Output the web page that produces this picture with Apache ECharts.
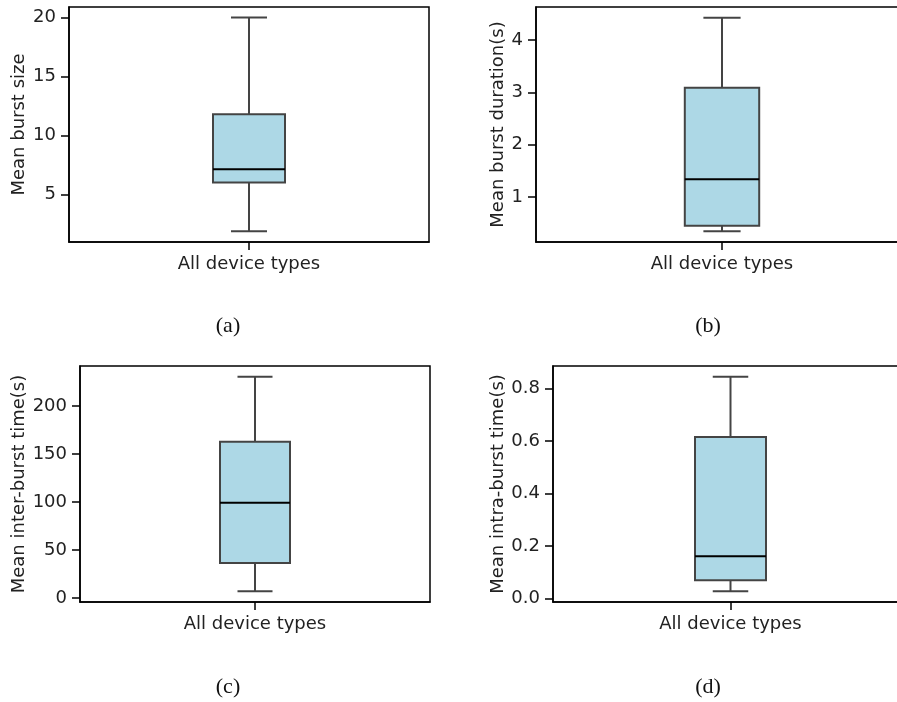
<!DOCTYPE html>
<html>
<head>
<meta charset="utf-8">
<script src="https://cdn.jsdelivr.net/npm/echarts@6/dist/echarts.min.js"></script>
<style>
html,body{margin:0;padding:0;background:#fff;}
#main{width:897px;height:702px;}
</style>
</head>
<body>
<div id="main"></div>
<script>
// ---- data ----
var categories = ['All device types'];
// [lower whisker, Q1, median, Q3, upper whisker]
var burstSize      = [1.86, 6.0, 7.12, 11.8, 20.0];
var burstDuration  = [0.348, 0.455, 1.342, 3.087, 4.424];
var interBurstTime = [6.9, 36.4, 99.0, 162.5, 230.3];
var intraBurstTime = [0.028, 0.07, 0.161, 0.615, 0.844];

var yNames = ['Mean burst size', 'Mean burst duration(s)', 'Mean inter-burst time(s)', 'Mean intra-burst time(s)'];
var captions = ['(a)', '(b)', '(c)', '(d)'];

var ticksA = [5, 10, 15, 20];
var ticksB = [1, 2, 3, 4];
var ticksC = [0, 50, 100, 150, 200];
var ticksD = [0.0, 0.2, 0.4, 0.6, 0.8];

var limitsA = [0.95, 20.9];
var limitsB = [0.144, 4.628];
var limitsC = [-4.3, 241.5];
var limitsD = [-0.013, 0.885];

// ---- layout ----
var panels = [
  {stats: burstSize, ticks: ticksA, lim: limitsA, fmt: function(v){return String(v);}, grid:{left:69, top:7, width:360, height:235}, gap:41},
  {stats: burstDuration, ticks: ticksB, lim: limitsB, fmt: function(v){return String(v);}, grid:{left:536, top:7, width:372, height:235}, gap:28},
  {stats: interBurstTime, ticks: ticksC, lim: limitsC, fmt: function(v){return String(v);}, grid:{left:80, top:366, width:350, height:236}, gap:51},
  {stats: intraBurstTime, ticks: ticksD, lim: limitsD, fmt: function(v){return v.toFixed(1);}, grid:{left:553, top:366, width:355, height:236}, gap:46}
];
var captionPos = [[228, 326], [708, 326], [228, 687], [708, 687]];

var FONT = 'DejaVu Sans';
var TXT = '#222';

var grids = [], xAxes = [], yAxes = [], series = [], graphics = [];
panels.forEach(function(p, i){
  grids.push(Object.assign({show:true, borderColor:'#000', borderWidth:1.5, backgroundColor:'transparent', containLabel:false, outerBoundsMode:'none'}, p.grid));
  xAxes.push({
    type:'category', gridIndex:i, data:categories, boundaryGap:true,
    axisLine:{show:true, onZero:false, lineStyle:{color:'#000', width:1.5}},
    axisTick:{show:true, alignWithLabel:true, length:8, lineStyle:{color:'#000', width:1.5}},
    axisLabel:{show:true, color:TXT, fontFamily:FONT, fontSize:18, margin:13},
    splitLine:{show:false}
  });
  yAxes.push({
    type:'value', gridIndex:i, min:p.lim[0], max:p.lim[1],
    name:yNames[i], nameLocation:'middle', nameGap:p.gap, nameRotate:90,
    nameTextStyle:{color:TXT, fontFamily:FONT, fontSize:18},
    axisLine:{show:true, onZero:false, lineStyle:{color:'#000', width:1.5}},
    axisTick:{show:true, length:8, lineStyle:{color:'#000', width:1.5}, customValues:p.ticks},
    axisLabel:{show:true, color:TXT, fontFamily:FONT, fontSize:18, margin:13, customValues:p.ticks, formatter:p.fmt},
    splitLine:{show:false}
  });
  var s = p.stats;
  series.push({
    type:'custom', xAxisIndex:i, yAxisIndex:i,
    data:[[0, s[0], s[1], s[2], s[3], s[4]]],
    encode:{x:0, y:[1,2,3,4,5]},
    renderItem:function(params, api){
      var cx = api.value(0);
      var lo = api.coord([cx, api.value(1)]);
      var q1 = api.coord([cx, api.value(2)]);
      var md = api.coord([cx, api.value(3)]);
      var q3 = api.coord([cx, api.value(4)]);
      var hi = api.coord([cx, api.value(5)]);
      var band = api.size([1, 0])[0];
      var bw = band * 0.2, cw = bw / 2;
      var x = lo[0];
      var edge = {stroke:'#444', lineWidth:2, fill:null};
      return {type:'group', children:[
        {type:'line', shape:{x1:x, y1:q3[1], x2:x, y2:hi[1]}, style:edge},
        {type:'line', shape:{x1:x, y1:q1[1], x2:x, y2:lo[1]}, style:edge},
        {type:'line', shape:{x1:x-cw/2, y1:hi[1], x2:x+cw/2, y2:hi[1]}, style:edge},
        {type:'line', shape:{x1:x-cw/2, y1:lo[1], x2:x+cw/2, y2:lo[1]}, style:edge},
        {type:'rect', shape:{x:x-bw/2, y:q3[1], width:bw, height:q1[1]-q3[1]}, style:{fill:'#add8e6', stroke:'#444', lineWidth:2}},
        {type:'line', shape:{x1:x-bw/2, y1:md[1], x2:x+bw/2, y2:md[1]}, style:{stroke:'#000', lineWidth:2}}
      ]};
    }
  });
  graphics.push({
    type:'text', x:captionPos[i][0], y:captionPos[i][1],
    style:{text:captions[i], fill:'#111', font:'22px "Liberation Serif", "DejaVu Serif", serif', textAlign:'center', textVerticalAlign:'middle'}
  });
});

var chart = echarts.init(document.getElementById('main'), null, {renderer:'canvas'});
chart.setOption({
  animation:false,
  backgroundColor:'#fff',
  grid:grids, xAxis:xAxes, yAxis:yAxes, series:series, graphic:graphics
});
</script>
</body>
</html>
